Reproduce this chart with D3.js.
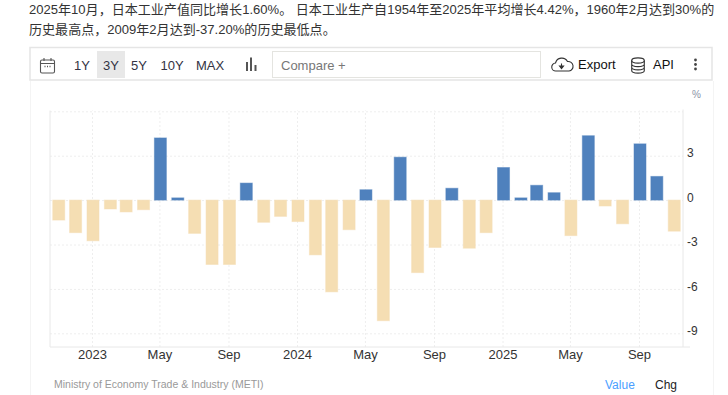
<!DOCTYPE html>
<html>
<head>
<meta charset="utf-8">
<script src="https://cdn.jsdelivr.net/npm/d3@7"></script>
<style>
  html, body { margin: 0; padding: 0; background: #fff; overflow: hidden; }
  svg { display: block; }
  text { font-family: "Liberation Sans", "Noto Sans CJK SC", sans-serif; }
</style>
</head>
<body>
<svg id="chart" width="728" height="395"></svg>
<script>
const months = [
  "2022-11","2022-12","2023-01","2023-02","2023-03","2023-04","2023-05","2023-06","2023-07",
  "2023-08","2023-09","2023-10","2023-11","2023-12","2024-01","2024-02","2024-03","2024-04",
  "2024-05","2024-06","2024-07","2024-08","2024-09","2024-10","2024-11","2024-12","2025-01",
  "2025-02","2025-03","2025-04","2025-05","2025-06","2025-07","2025-08","2025-09","2025-10","2025-11"
];
const values = [
  -1.35, -2.2, -2.75, -0.6, -0.8, -0.65, 4.2, 0.15, -2.25,
  -4.35, -4.35, 1.15, -1.5, -1.1, -1.45, -3.7, -6.2, -2.0,
  0.7, -8.15, 2.9, -4.9, -3.2, 0.8, -3.25, -2.2, 2.2,
  0.15, 1.0, 0.5, -2.4, 4.35, -0.4, -1.6, 3.8, 1.6, -2.1
];
const xTickMonths = ["2023-01","2023-05","2023-09","2024-01","2024-05","2024-09","2025-01","2025-05","2025-09"];
const xTickLabels = ["2023","May","Sep","2024","May","Sep","2025","May","Sep"];
const yTicks = [6, 3, 0, -3, -6, -9];
const yLabelled = [3, 0, -3, -6, -9];
const rangeButtons = ["1Y", "3Y", "5Y", "10Y", "MAX"];
const rangeCenters = [82, 111, 139, 172, 210];

const headline = [
  "2025年10月，日本工业产值同比增长1.60%。 日本工业生产自1954年至2025年平均增长4.42%，1960年2月达到30%的",
  "历史最高点，2009年2月达到-37.20%的历史最低点。"
];

const svg = d3.select("#chart");
const parseMonth = d3.timeParse("%Y-%m");

const plot = { left: 50, right: 683, top: 110.5, bottom: 347 };

const x = d3.scaleTime()
  .domain([parseMonth("2023-01"), parseMonth("2025-09")])
  .range([92, 639]);

const y = d3.scaleLinear()
  .domain([6, -9])
  .range([111.3, 333.3]);

// page text above the chart
svg.selectAll(".headline")
  .data(headline)
  .enter()
  .append("text")
  .attr("class", "headline")
  .attr("x", 29)
  .attr("y", (d, i) => 13.5 + i * 20)
  .attr("font-size", "13.05px")
  .attr("fill", "#333")
  .text(d => d);

// toolbar
svg.append("rect")
  .attr("x", 30).attr("y", 47.5)
  .attr("width", 682).attr("height", 32.5)
  .attr("fill", "#fff")
  .attr("stroke", "#e5e5e5")
  .attr("stroke-width", 1.5);

svg.append("rect")
  .attr("x", 97).attr("y", 51)
  .attr("width", 28).attr("height", 27)
  .attr("fill", "#e8e8e8");

svg.selectAll(".range")
  .data(rangeButtons)
  .enter()
  .append("text")
  .attr("class", "range")
  .attr("x", (d, i) => rangeCenters[i])
  .attr("y", 70)
  .attr("text-anchor", "middle")
  .attr("font-size", "13px")
  .attr("fill", "#334")
  .text(d => d);

svg.append("rect")
  .attr("x", 272.5).attr("y", 51.5)
  .attr("width", 268).attr("height", 26)
  .attr("fill", "#fff")
  .attr("stroke", "#e4e4e0")
  .attr("stroke-width", 1);

svg.append("text")
  .attr("x", 281).attr("y", 70)
  .attr("font-size", "13px")
  .attr("fill", "#777")
  .text("Compare +");

svg.append("text")
  .attr("x", 578).attr("y", 69)
  .attr("font-size", "13px")
  .attr("fill", "#111")
  .text("Export");

svg.append("text")
  .attr("x", 653).attr("y", 69)
  .attr("font-size", "13px")
  .attr("fill", "#111")
  .text("API");

// toolbar icons
const icons = svg.append("g")
  .attr("fill", "none")
  .attr("stroke", "#555")
  .attr("stroke-width", 1.1);

icons.append("rect").attr("x", 40.5).attr("y", 60).attr("width", 14).attr("height", 13).attr("rx", 1.5);
icons.append("path").attr("d", "M40.5 63.5H54.5M44 58V61M51 58V61");
icons.append("path").attr("d", "M44.5 66.5h1M47 66.5h1M49.5 66.5h1").attr("stroke-width", 1.4);

icons.append("path")
  .attr("d", "M247 71V62M251 71V57.5M255.5 71V65")
  .attr("stroke-width", 2);

icons.append("path")
  .attr("d", "M556 71a4 4 0 0 1 -0.5 -8a6.5 6.5 0 0 1 12 -1.5a4.8 4.8 0 0 1 1.5 9.5z")
  .attr("stroke", "#333");
icons.append("path")
  .attr("d", "M561.5 63.5v4M559.5 66l2 2.5l2 -2.5z")
  .attr("stroke", "#333")
  .attr("fill", "#333");

icons.append("ellipse").attr("cx", 638).attr("cy", 60.5).attr("rx", 6.3).attr("ry", 2.6).attr("stroke", "#333");
icons.append("path")
  .attr("d", "M631.7 60.5V70.5a6.3 2.6 0 0 0 12.6 0V60.5M631.7 64a6.3 2.6 0 0 0 12.6 0M631.7 67.3a6.3 2.6 0 0 0 12.6 0")
  .attr("stroke", "#333");

icons.selectAll(".dot")
  .data([60, 64.5, 69])
  .enter()
  .append("circle")
  .attr("class", "dot")
  .attr("cx", 695.5)
  .attr("cy", d => d)
  .attr("r", 1.4)
  .attr("fill", "#444")
  .attr("stroke", "none");

// faint frame round the chart
svg.append("path")
  .attr("d", "M30.5 81V395M713.5 81V395")
  .attr("stroke", "#f4f4f4")
  .attr("fill", "none");

// grid
const yGrid = svg.append("g")
  .attr("transform", `translate(${plot.left},0)`)
  .call(d3.axisRight(y)
    .tickValues(yTicks)
    .tickSize(plot.right - plot.left)
    .tickFormat(""));
yGrid.select(".domain").remove();
yGrid.selectAll("line")
  .attr("stroke", "#eee")
  .attr("stroke-dasharray", "2,2");

const xGrid = svg.append("g")
  .attr("transform", `translate(0,${plot.bottom})`)
  .call(d3.axisTop(x)
    .tickValues(xTickMonths.map(parseMonth))
    .tickSize(plot.bottom - plot.top)
    .tickFormat(""));
xGrid.select(".domain").remove();
xGrid.selectAll("line")
  .attr("stroke", "#eee")
  .attr("stroke-dasharray", "2,2");

// plot edges
svg.append("path")
  .attr("d", `M${plot.left} ${plot.top}V${plot.bottom}H${plot.right + 7}M${plot.right} ${plot.top - 1}V${plot.bottom}`)
  .attr("fill", "none")
  .attr("stroke", "#e8e8e8");

// bars
svg.selectAll(".bar")
  .data(values)
  .enter()
  .append("rect")
  .attr("class", "bar")
  .attr("x", (d, i) => x(parseMonth(months[i])) + 1 - 6)
  .attr("y", d => y(Math.max(d, 0)))
  .attr("width", 12)
  .attr("height", d => Math.abs(y(d) - y(0)))
  .attr("fill", d => d >= 0 ? "#4f81bd" : "#f5deb3")
  .attr("stroke", d => d >= 0 ? "#4f81bd" : "#f5deb3")
  .attr("stroke-opacity", 0.5);

// axes
const xAxis = svg.append("g")
  .attr("transform", `translate(0,${plot.bottom})`)
  .call(d3.axisBottom(x)
    .tickValues(xTickMonths.map(parseMonth))
    .tickSize(0)
    .tickPadding(3)
    .tickFormat((d, i) => xTickLabels[i]));
xAxis.select(".domain").remove();
xAxis.selectAll("text")
  .attr("font-family", null)
  .attr("font-size", "13px")
  .attr("fill", "#333");

// plain hyphen on the negatives, as in the original
const yAxis = svg.append("g")
  .attr("transform", `translate(${plot.right},0)`)
  .call(d3.axisRight(y)
    .tickValues(yLabelled)
    .tickSize(0)
    .tickPadding(4)
    .tickFormat(d => String(d)));
yAxis.select(".domain").remove();
yAxis.selectAll("text")
  .attr("font-family", null)
  .attr("font-size", "12px")
  .attr("fill", "#333")
  .attr("dy", "0.1em");

svg.append("text")
  .attr("x", 692).attr("y", 98)
  .attr("font-size", "10px")
  .attr("fill", "#8a94a6")
  .text("%");

// footer
svg.append("text")
  .attr("x", 54).attr("y", 388)
  .attr("font-size", "10.5px")
  .attr("fill", "#999")
  .text("Ministry of Economy Trade & Industry (METI)");

svg.append("text")
  .attr("x", 605).attr("y", 389)
  .attr("font-size", "12px")
  .attr("fill", "#4a9eff")
  .text("Value");

svg.append("text")
  .attr("x", 655).attr("y", 389)
  .attr("font-size", "12px")
  .attr("fill", "#222")
  .text("Chg");
</script>
</body>
</html>
